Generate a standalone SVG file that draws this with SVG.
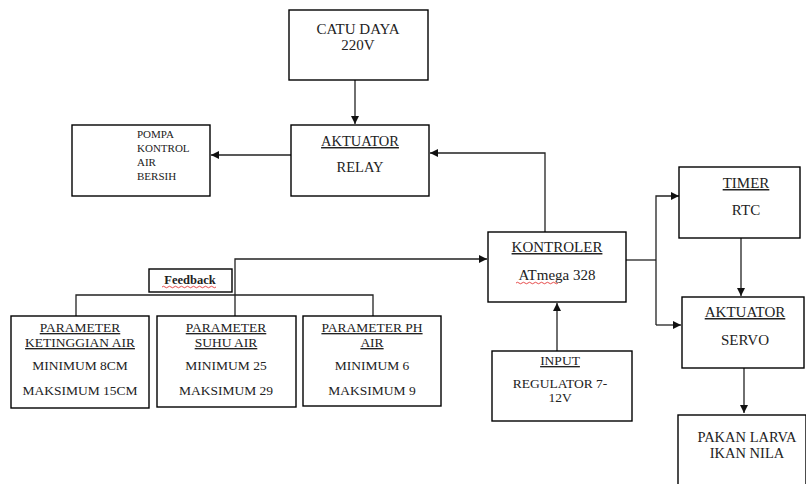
<svg xmlns="http://www.w3.org/2000/svg" width="806" height="484" viewBox="0 0 806 484">
<style>
  .box{fill:#fff;stroke:#000;stroke-width:1.4}
  text{font-family:'Liberation Serif','DejaVu Serif',serif;fill:#222;text-anchor:middle}
  .s{text-anchor:start}
  .u{text-decoration:underline}
  .l{fill:none;stroke:#222;stroke-width:1.3}
  .sq{fill:none;stroke:#e02020;stroke-width:0.8}
</style>
<defs>
  <marker id="ah" viewBox="0 0 10 10" refX="10" refY="5" markerWidth="8" markerHeight="8" markerUnits="userSpaceOnUse" orient="auto">
    <path d="M0,0 L10,5 L0,10 z" fill="#111"/>
  </marker>
</defs>
<rect width="806" height="484" fill="#fff"/>

<g id="connectors">
  <path class="l" d="M355,80 V124" marker-end="url(#ah)"/>
  <path class="l" d="M291,155 H211" marker-end="url(#ah)"/>
  <path class="l" d="M545,232 V153 H430" marker-end="url(#ah)"/>
  <path class="l" d="M235,316 V259 H487" marker-end="url(#ah)"/>
  <path class="l" d="M76,316 V295 H373 V316"/>
  <path class="l" d="M557,351 V303" marker-end="url(#ah)"/>
  <path class="l" d="M626,260 H656"/>
  <path class="l" d="M656,325 V196 H679" marker-end="url(#ah)"/>
  <path class="l" d="M656,325 H681" marker-end="url(#ah)"/>
  <path class="l" d="M741,238 V296" marker-end="url(#ah)"/>
  <path class="l" d="M744,368 V413" marker-end="url(#ah)"/>
</g>

<g id="catu-daya">
  <rect class="box" x="289" y="10" width="139" height="70"/>
  <text x="358" y="34" font-size="15">CATU DAYA</text>
  <text x="358" y="50" font-size="15">220V</text>
</g>

<g id="pompa">
  <rect class="box" x="72" y="125" width="138" height="71"/>
  <text class="s" x="137" y="138" font-size="11">POMPA</text>
  <text class="s" x="137" y="152" font-size="11">KONTROL</text>
  <text class="s" x="137" y="166" font-size="11">AIR</text>
  <text class="s" x="137" y="180" font-size="11">BERSIH</text>
</g>

<g id="aktuator-relay">
  <rect class="box" x="291" y="125" width="138" height="71"/>
  <text class="u" x="360" y="146" font-size="14.5">AKTUATOR</text>
  <text x="360" y="172" font-size="14.5">RELAY</text>
</g>

<g id="kontroler">
  <rect class="box" x="488" y="232" width="138" height="70"/>
  <text class="u" x="557" y="252" font-size="15">KONTROLER</text>
  <text x="557" y="280" font-size="15">ATmega 328</text>
  <path class="sq" d="M516,283 q1.5,-1.5 3,0 t3,0 t3,0 t3,0 t3,0 t3,0 t3,0 t3,0 t3,0 t3,0 t3,0 t3,0 t3,0 t3,0"/>
</g>

<g id="feedback">
  <rect class="box" x="149" y="269" width="83" height="23"/>
  <text x="190" y="284" font-size="12.5" font-weight="bold">Feedback</text>
  <path class="sq" d="M162,287 q1.5,-1.5 3,0 t3,0 t3,0 t3,0 t3,0 t3,0 t3,0 t3,0 t3,0 t3,0 t3,0 t3,0 t3,0 t3,0 t3,0 t3,0 t3,0 t3,0"/>
</g>

<g id="param-ketinggian">
  <rect class="box" x="11" y="316" width="138" height="92"/>
  <text class="u" x="80" y="332" font-size="13.5">PARAMETER</text>
  <text class="u" x="80" y="347" font-size="13.5">KETINGGIAN AIR</text>
  <text x="80" y="370" font-size="13.5">MINIMUM 8CM</text>
  <text x="80" y="395" font-size="13.5">MAKSIMUM 15CM</text>
</g>

<g id="param-suhu">
  <rect class="box" x="157" y="316" width="139" height="91"/>
  <text class="u" x="226" y="332" font-size="13.5">PARAMETER</text>
  <text class="u" x="226" y="347" font-size="13.5">SUHU AIR</text>
  <text x="226" y="370" font-size="13.5">MINIMUM 25</text>
  <text x="226" y="395" font-size="13.5">MAKSIMUM 29</text>
</g>

<g id="param-ph">
  <rect class="box" x="303" y="316" width="138" height="90"/>
  <text class="u" x="372" y="332" font-size="13.5">PARAMETER PH</text>
  <text class="u" x="372" y="347" font-size="13.5">AIR</text>
  <text x="372" y="370" font-size="13.5">MINIMUM 6</text>
  <text x="372" y="395" font-size="13.5">MAKSIMUM 9</text>
</g>

<g id="input">
  <rect class="box" x="492" y="351" width="140" height="70"/>
  <text class="u" x="560" y="365" font-size="13.5">INPUT</text>
  <text x="560" y="388" font-size="13.5">REGULATOR 7-</text>
  <text x="560" y="402" font-size="13.5">12V</text>
</g>

<g id="timer">
  <rect class="box" x="679" y="167" width="121" height="71"/>
  <text class="u" x="746" y="188" font-size="15">TIMER</text>
  <text x="746" y="215" font-size="15">RTC</text>
</g>

<g id="aktuator-servo">
  <rect class="box" x="682" y="297" width="122" height="71"/>
  <text class="u" x="745" y="317" font-size="15">AKTUATOR</text>
  <text x="745" y="345" font-size="15">SERVO</text>
</g>

<g id="pakan">
  <rect class="box" x="678" y="415" width="128" height="75"/>
  <text x="747" y="442" font-size="14.5">PAKAN LARVA</text>
  <text x="747" y="458" font-size="14.5">IKAN NILA</text>
</g>
</svg>
